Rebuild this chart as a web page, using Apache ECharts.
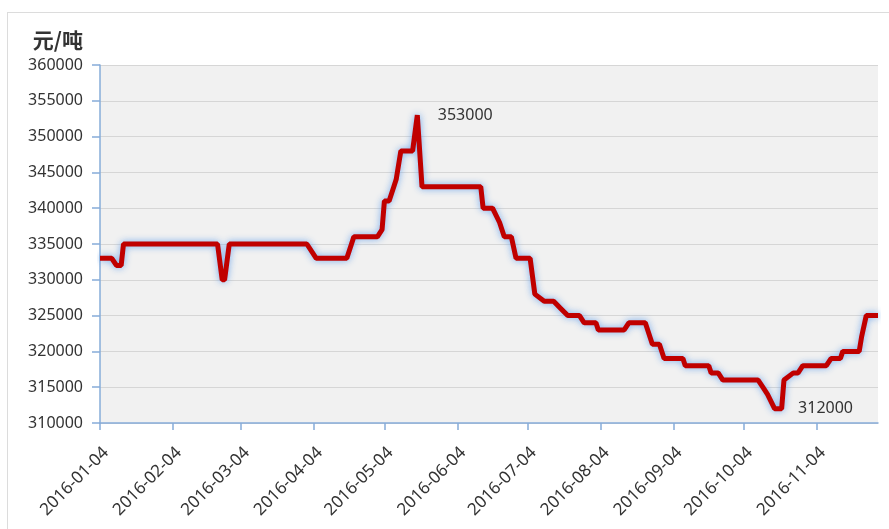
<!DOCTYPE html>
<html>
<head>
<meta charset="utf-8">
<script src="https://cdn.jsdelivr.net/npm/echarts@6/dist/echarts.min.js"></script>
<style>
  html, body { margin: 0; padding: 0; background: #fff; }
  #wrap { position: relative; width: 889px; height: 529px; overflow: hidden; }
  #frame { position: absolute; left: 7px; top: 12px; right: -2px; bottom: -2px; border-top: 1px solid #dcdcdc; border-left: 1px solid #dcdcdc; pointer-events: none; }
  #chart { position: absolute; left: 0; top: 0; width: 889px; height: 529px; }
</style>
</head>
<body>
<div id="wrap">
  <div id="frame"></div>
  <div id="chart"></div>
</div>
<script>
// ---- data ----
const dates = [
  '2016-01-04','2016-01-09','2016-01-11','2016-01-13','2016-01-14',
  '2016-02-23','2016-02-25','2016-02-26','2016-02-28',
  '2016-04-01','2016-04-05','2016-04-18','2016-04-20','2016-04-21',
  '2016-05-01','2016-05-03','2016-05-04','2016-05-06','2016-05-08','2016-05-09',
  '2016-05-11','2016-05-16','2016-05-18','2016-05-20',
  '2016-06-14','2016-06-15','2016-06-19','2016-06-22','2016-06-24','2016-06-27','2016-06-29',
  '2016-07-05','2016-07-07','2016-07-11','2016-07-15','2016-07-18','2016-07-21','2016-07-26','2016-07-28',
  '2016-08-02','2016-08-03','2016-08-14','2016-08-16','2016-08-23','2016-08-26','2016-08-29','2016-08-31',
  '2016-09-08','2016-09-09','2016-09-19','2016-09-20','2016-09-23','2016-09-25',
  '2016-10-10','2016-10-12','2016-10-14','2016-10-17','2016-10-20','2016-10-21','2016-10-25','2016-10-27','2016-10-29',
  '2016-11-08','2016-11-10','2016-11-14','2016-11-15','2016-11-22','2016-11-23','2016-11-25','2016-11-30'
];
const prices = [
  333000,333000,332000,332000,335000,
  335000,330000,330000,335000,
  335000,333000,333000,335000,336000,
  336000,337000,341000,341000,343000,344000,
  348000,348000,353000,343000,
  343000,340000,340000,338000,336000,336000,333000,
  333000,328000,327000,327000,326000,325000,325000,324000,
  324000,323000,323000,324000,324000,321000,321000,319000,
  319000,318000,318000,317000,317000,316000,
  316000,315000,314000,312000,312000,316000,317000,317000,318000,
  318000,319000,319000,320000,320000,322000,325000,325000
];
const tickDates = [
  '2016-01-04','2016-02-04','2016-03-04','2016-04-04','2016-05-04','2016-06-04',
  '2016-07-04','2016-08-04','2016-09-04','2016-10-04','2016-11-04'
];
const axisStart = '2016-01-04';
const axisEnd = '2016-11-30';
const yTicks = { min: 310000, max: 360000, step: 5000 };
const unitName = '元/吨';

// ---- helpers ----
function ts(s) { const p = s.split('-'); return new Date(+p[0], +p[1] - 1, +p[2]).getTime(); }
function pad(n) { return (n < 10 ? '0' : '') + n; }
function fmt(v) { const d = new Date(v); return d.getFullYear() + '-' + pad(d.getMonth() + 1) + '-' + pad(d.getDate()); }

const seriesData = dates.map((d, i) => [ts(d), prices[i]]);
const tickVals = tickDates.map(ts);

const axisColor = '#86acd9';
const textColor = '#333333';
const font = '"Noto Sans", "Noto Sans CJK SC", sans-serif';

const chart = echarts.init(document.getElementById('chart'), null, { renderer: 'canvas' });
chart.setOption({
  animation: false,
  backgroundColor: 'transparent',
  grid: {
    left: 100, right: 11, top: 65, bottom: 106,
    show: true, backgroundColor: '#f1f1f1', borderWidth: 0
  },
  xAxis: {
    type: 'value',
    min: ts(axisStart),
    max: ts(axisEnd),
    axisLine: { show: true, lineStyle: { color: axisColor, width: 1.5 } },
    axisTick: { show: true, length: 7, customValues: tickVals, lineStyle: { color: axisColor, width: 1.5 } },
    axisLabel: {
      customValues: tickVals,
      rotate: 45,
      margin: 21,
      verticalAlign: 'top',
      color: textColor,
      fontSize: 17,
      fontFamily: font,
      formatter: function (v) { return fmt(v); }
    },
    splitLine: { show: false }
  },
  yAxis: {
    type: 'value',
    min: yTicks.min,
    max: yTicks.max,
    interval: yTicks.step,
    name: unitName,
    nameLocation: 'end',
    nameGap: 14,
    nameTextStyle: {
      align: 'right',
      padding: [0, 17, 0, 0],
      color: textColor,
      fontSize: 21,
      fontWeight: 'bold',
      fontFamily: '"Noto Sans CJK SC", sans-serif'
    },
    axisLine: { show: true, lineStyle: { color: axisColor, width: 1.5 } },
    axisTick: { show: true, length: 8, lineStyle: { color: axisColor, width: 1.5 } },
    axisLabel: {
      color: textColor, fontSize: 16, fontFamily: font, margin: 17,
      formatter: function (v) { return String(v); }
    },
    splitLine: { show: true, lineStyle: { color: '#d6d6d6', width: 1 } }
  },
  series: [{
    type: 'line',
    data: seriesData,
    showSymbol: false,
    symbol: 'none',
    lineStyle: {
      color: '#c00000',
      width: 5,
      shadowColor: 'rgba(100,160,235,0.9)',
      shadowBlur: 7
    },
    itemStyle: { color: '#c00000' },
    markPoint: {
      symbol: 'circle',
      symbolSize: 1,
      itemStyle: { color: 'rgba(0,0,0,0)' },
      label: {
        show: true,
        position: 'right',
        distance: 20,
        color: textColor,
        fontSize: 16,
        fontFamily: font,
        formatter: function (p) { return String(p.value); }
      },
      data: [
        { type: 'max' },
        { type: 'min', label: { distance: 23 } }
      ]
    }
  }]
});
</script>
</body>
</html>
